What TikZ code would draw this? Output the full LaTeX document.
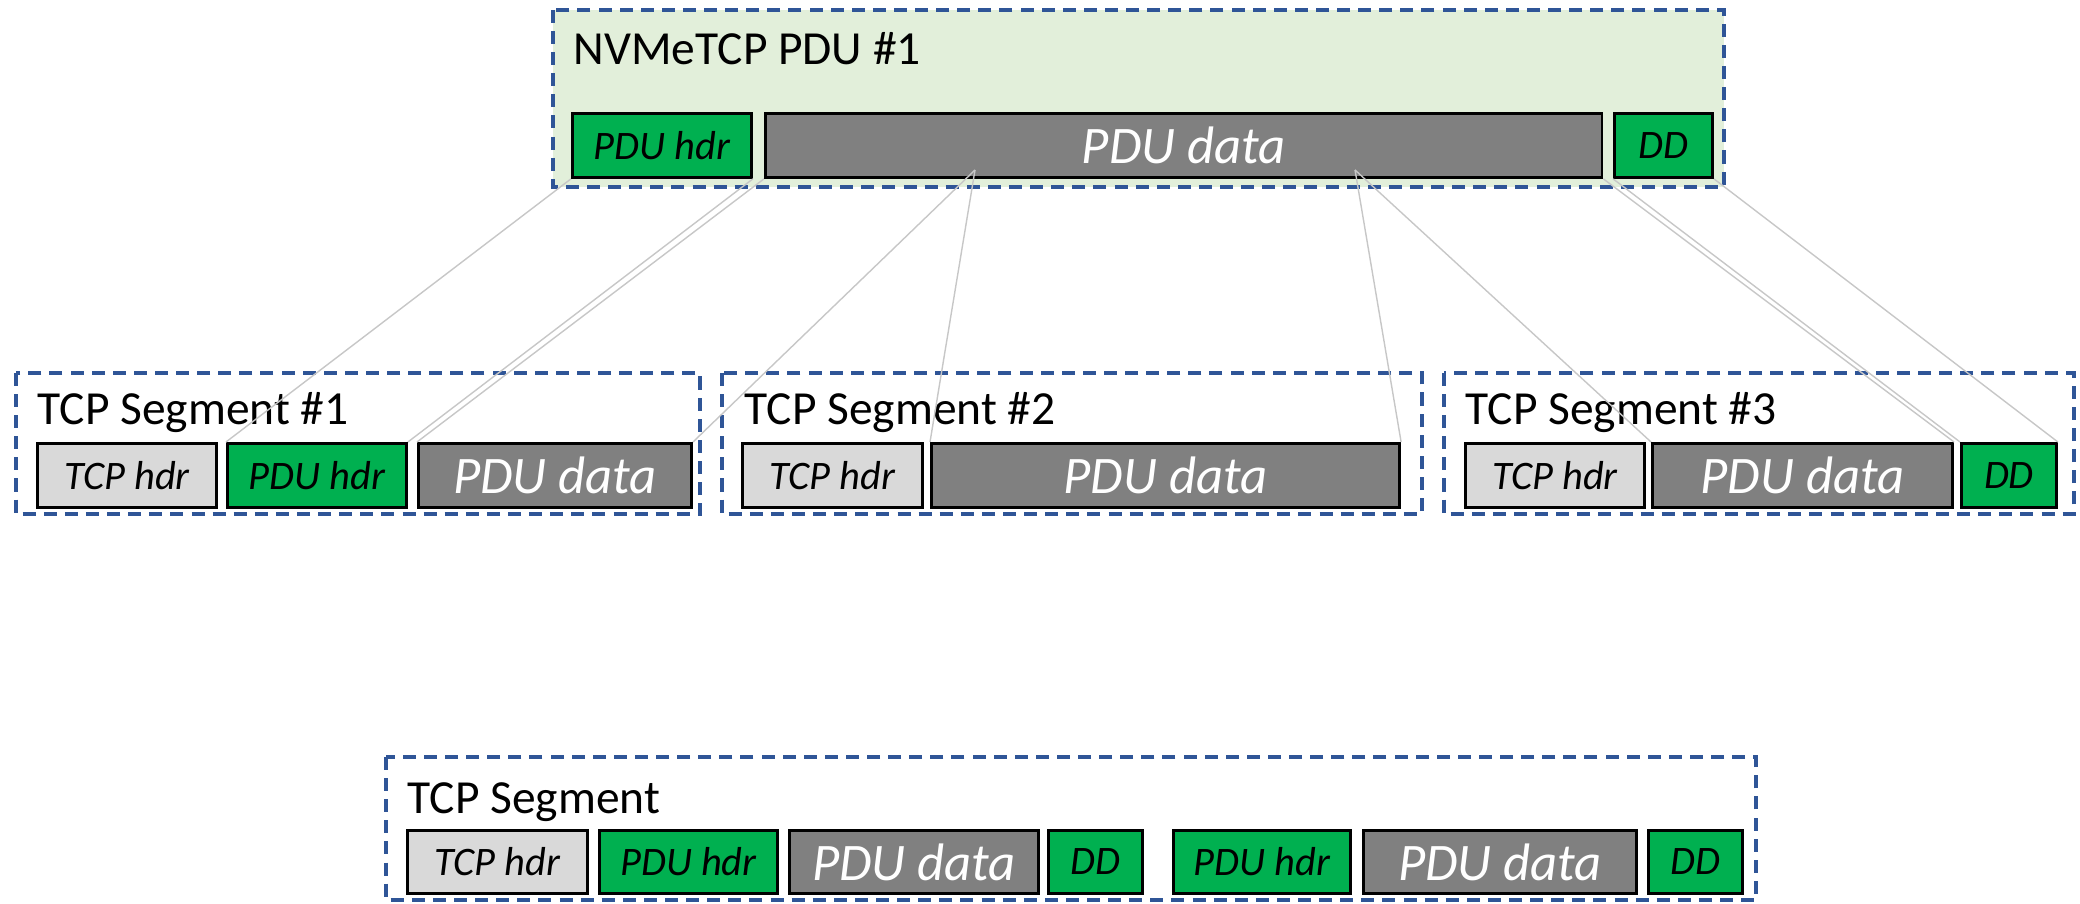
\documentclass[tikz,border=0pt]{standalone}
\usepackage{fontspec}
\setmainfont{Carlito}
\definecolor{frameblue}{HTML}{2F5597}
\definecolor{hdrgreen}{HTML}{00B050}
\definecolor{pdugreen}{HTML}{E2EFDA}
\definecolor{datagrey}{HTML}{808080}
\definecolor{tcpgrey}{HTML}{D9D9D9}

\begin{document}
\begin{tikzpicture}[x=0.01cm,y=-0.01cm,
  segbox/.style = {draw=frameblue, line width=1pt, dash pattern=on 3.7pt off 2.3pt},
  blk/.style = {draw, line width=0.8pt, anchor=north west, inner sep=0pt, minimum height=0.64cm, font=\fontsize{11.5}{14}\selectfont\itshape},
  tcphdr/.style = {blk, fill=tcpgrey},
  pduhdr/.style = {blk, fill=hdrgreen},
  pdudata/.style = {blk, fill=datagrey, text=white, font=\fontsize{15}{18}\selectfont\itshape},
  segtitle/.style = {anchor=base west, inner sep=0pt, font=\fontsize{13.5}{16}\selectfont},
  cutline/.style = {draw=black!22, line width=0.4pt}
  ]
\useasboundingbox (0,0) rectangle (2080,904);

% the PDU
\draw[segbox, fill=pdugreen] (553,10) rectangle (1724,187);
\node[segtitle] (ptitle) at (573,65) {NVMeTCP PDU \#1};
\node[pduhdr, minimum width=1.79cm] (phdr) at (571,112) {PDU hdr};
\node[pdudata, minimum width=8.36cm] (pdata) at (764,112) {PDU data};
\node[pduhdr, minimum width=0.98cm] (pdd) at (1613,112) {DD};

% the three segments
\draw[segbox] (16,373) rectangle (700,514);
\node[segtitle] (s1title) at (37,425) {TCP Segment \#1};
\node[tcphdr, minimum width=1.79cm] (s1tcp) at (36,442) {TCP hdr};
\node[pduhdr, minimum width=1.79cm] (s1hdr) at (226,442) {PDU hdr};
\node[pdudata, minimum width=2.73cm] (s1data) at (417,442) {PDU data};

\draw[segbox] (722,373) rectangle (1422,514);
\node[segtitle] (s2title) at (744,425) {TCP Segment \#2};
\node[tcphdr, minimum width=1.80cm] (s2tcp) at (741,442) {TCP hdr};
\node[pdudata, minimum width=4.68cm] (s2data) at (930,442) {PDU data};

\draw[segbox] (1444,373) rectangle (2074,514);
\node[segtitle] (s3title) at (1465,425) {TCP Segment \#3};
\node[tcphdr, minimum width=1.79cm] (s3tcp) at (1464,442) {TCP hdr};
\node[pdudata, minimum width=3.00cm] (s3data) at (1651,442) {PDU data};
\node[pduhdr, minimum width=0.95cm] (s3dd) at (1960,442) {DD};

% one segment, two PDUs
\draw[segbox] (386,757) rectangle (1756,900);
\node[segtitle] (btitle) at (407,813) {TCP Segment};
\node[tcphdr, minimum width=1.80cm, minimum height=0.63cm] (btcp) at (406,829) {TCP hdr};
\node[pduhdr, minimum width=1.78cm, minimum height=0.63cm] (bhdr1) at (598,829) {PDU hdr};
\node[pdudata, minimum width=2.49cm, minimum height=0.63cm] (bdata1) at (788,829) {PDU data};
\node[pduhdr, minimum width=0.94cm, minimum height=0.63cm] (bdd1) at (1047,829) {DD};
\node[pduhdr, minimum width=1.77cm, minimum height=0.63cm] (bhdr2) at (1172,829) {PDU hdr};
\node[pdudata, minimum width=2.73cm, minimum height=0.63cm] (bdata2) at (1362,829) {PDU data};
\node[pduhdr, minimum width=0.94cm, minimum height=0.63cm] (bdd2) at (1647,829) {DD};

% where the PDU is cut
\coordinate (cutA) at (975,170);
\coordinate (cutB) at (1355,170);
\draw[cutline] (phdr.south west) -- (s1hdr.north west);
\draw[cutline] (phdr.south east) -- (s1hdr.north east);
\draw[cutline] (pdata.south west) -- (s1data.north west);
\draw[cutline] (cutA) -- (s1data.north east);
\draw[cutline] (cutA) -- (s2data.north west);
\draw[cutline] (cutB) -- (s2data.north east);
\draw[cutline] (cutB) -- (s3data.north west);
\draw[cutline] (pdata.south east) -- (s3data.north east);
\draw[cutline] (pdd.south west) -- (s3dd.north west);
\draw[cutline] (pdd.south east) -- (s3dd.north east);

\end{tikzpicture}
\end{document}
